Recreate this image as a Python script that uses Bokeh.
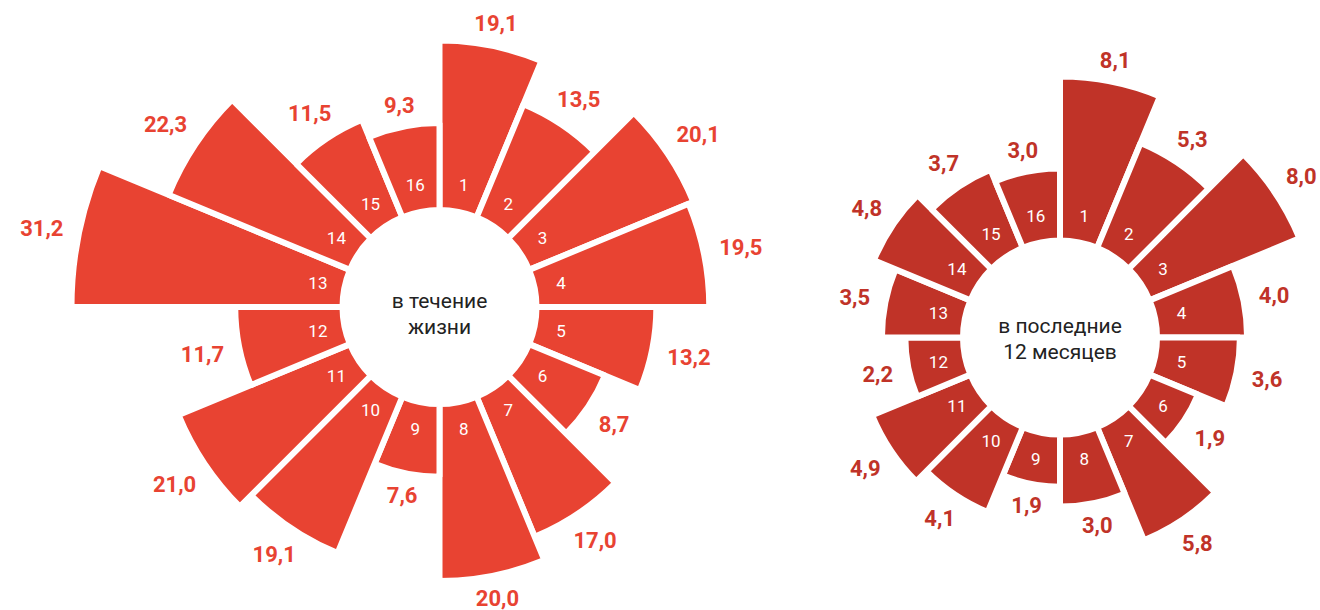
import numpy as np
from bokeh.plotting import figure
from bokeh.models import Range1d, ColumnDataSource
from bokeh.core.properties import value
from bokeh.embed import file_html
from bokeh.resources import INLINE

# ---- data ----
sectors = [str(i) for i in range(1, 17)]
lifetime = [19.1, 13.5, 20.1, 19.5, 13.2, 8.7, 17.0, 20.0, 7.6, 19.1, 21.0, 11.7, 31.2, 22.3, 11.5, 9.3]
last12 = [8.1, 5.3, 8.0, 4.0, 3.6, 1.9, 5.8, 3.0, 1.9, 4.1, 4.9, 2.2, 3.5, 4.8, 3.7, 3.0]
center_lifetime = ["в течение", "жизни"]
center_last12 = ["в последние", "12 месяцев"]

# ---- styles ----
RED = "#E84332"
DARK_RED = "#C03328"
FONT = "Roboto"
GAP = 6

W, H = 1320, 610
PAGE_H = 610

p = figure(width=W, height=H, x_range=Range1d(0, W), y_range=Range1d(0, H),
           output_backend="svg", toolbar_location=None,
           x_axis_type=None, y_axis_type=None, min_border=0)
p.grid.visible = False
p.outline_line_color = None
p.background_fill_color = "white"
p.border_fill_color = "white"


def rose(vals, cx, cy_screen, r_hole, r_zero, r_at_max, color, center_lines, line_ys):
    vals = np.asarray(vals, dtype=float)
    n = len(vals)
    cy = PAGE_H - cy_screen
    step = 360.0 / n
    idx = np.arange(n)
    a0 = idx * step                 # clockwise from 12 o'clock
    a1 = (idx + 1) * step
    mid = np.deg2rad((idx + 0.5) * step)
    vmax = vals.max()
    r_vis = r_zero + (r_at_max - r_zero) * vals / vmax
    src = ColumnDataSource(dict(
        x=[cx] * n, y=[cy] * n,
        start=np.deg2rad(90 - a1), end=np.deg2rad(90 - a0),
        inner=[r_hole - GAP / 2] * n, outer=r_vis + GAP / 2,
    ))
    p.annular_wedge(x="x", y="y", inner_radius="inner", outer_radius="outer",
                    start_angle="start", end_angle="end", source=src,
                    fill_color=color, line_color="white", line_width=GAP)

    # sector numbers
    r_num = r_hole + 24
    p.text(x=cx + r_num * np.sin(mid), y=cy + r_num * np.cos(mid), text=sectors,
           text_font=value(FONT), text_font_size="17px", text_color="white",
           text_align="center", text_baseline="middle")

    # value labels
    labels = [f"{v:.1f}".replace(".", ",") for v in vals]
    fs = 22
    hw = np.array([len(t) for t in labels]) * fs * 0.29
    hh = fs * 0.33
    d = r_vis + 14 + hw * np.abs(np.sin(mid)) + hh * np.abs(np.cos(mid))
    p.text(x=cx + d * np.sin(mid), y=cy + d * np.cos(mid), text=labels,
           text_font=value(FONT), text_font_style="bold", text_font_size=f"{fs}px",
           text_color=color, text_align="center", text_baseline="middle")

    # center caption
    p.text(x=[cx] * len(center_lines), y=[PAGE_H - yy for yy in line_ys], text=center_lines,
           text_font=value(FONT), text_font_size="21px", text_color="#222222",
           text_align="center", text_baseline="middle")


rose(lifetime, 439, 306.5, 100, 103, 365, RED, center_lifetime, [300, 326])
rose(last12, 1059.5, 337, 100, 112, 258, DARK_RED, center_last12, [325, 351])

open("out.html", "w").write(file_html(p, INLINE))
